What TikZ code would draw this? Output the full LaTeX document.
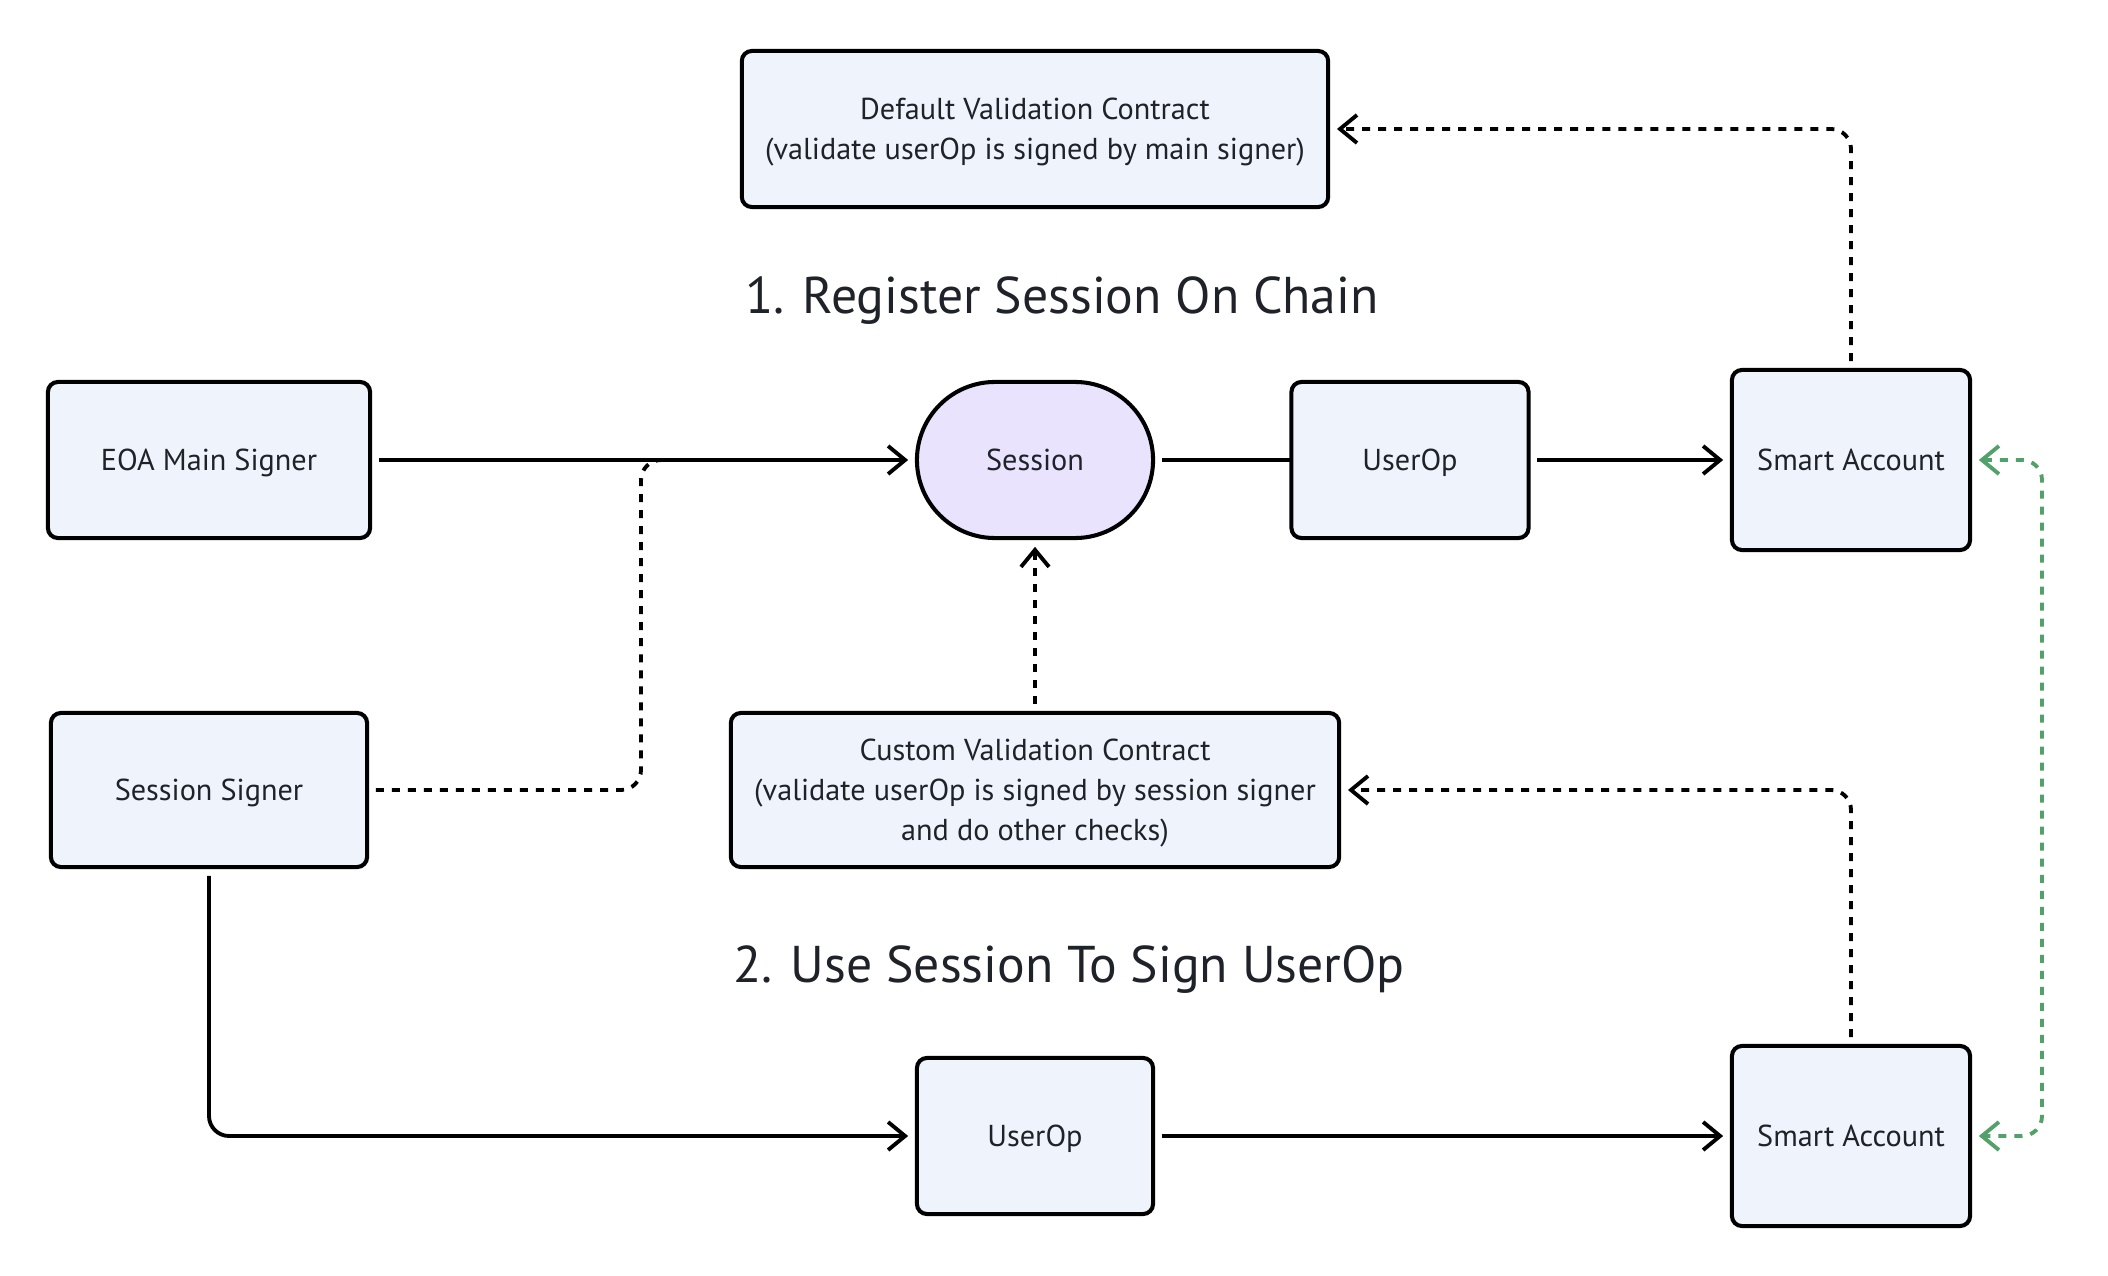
\documentclass[tikz,border=0pt]{standalone}
\usepackage{fontspec}
\setmainfont{PT Sans}
\usetikzlibrary{arrows.meta,positioning}
\definecolor{boxfill}{HTML}{EFF3FC}
\definecolor{sessfill}{HTML}{E9E3FD}
\definecolor{inkgray}{HTML}{1F2329}
\definecolor{railgreen}{HTML}{52A06A}

\begin{document}
\begin{tikzpicture}[x=0.01cm,y=-0.01cm,
  box/.style={draw, rectangle, rounded corners=0.1cm, line width=1.15pt, fill=boxfill,
    text=inkgray, font=\fontsize{8.6}{11.4}\selectfont, align=center, outer sep=2.5pt,
    text depth=0pt},
  pill/.style={box, fill=sessfill, rounded corners=0.78cm},
  headline/.style={text=inkgray, font=\fontsize{14.7}{17}\selectfont},
  flow/.style={line width=1.1pt, -{Straight Barb[length=1.7mm,width=2.8mm]}},
  link/.style={line width=1.1pt},
  dots/.style={flow, dash pattern=on 0.08cm off 0.08cm, rounded corners=0.2cm},
  rail/.style={dots, railgreen, {Straight Barb[length=1.7mm,width=2.8mm]}-{Straight Barb[length=1.7mm,width=2.8mm]}}]
\useasboundingbox (0,0) rectangle (2108,1276);

% top row
\node[box, minimum width=5.86cm, minimum height=1.56cm] (dvc) at (1035,129)
  {Default Validation Contract\\(validate userOp is signed by main signer)};
\node[headline] (title1) at (1062,301) {1. Register Session On Chain};

\node[box, minimum width=3.22cm, minimum height=1.56cm] (eoa) at (209,460) {EOA Main Signer};
\node[pill, minimum width=2.36cm, minimum height=1.56cm] (sess) at (1035,460) {Session};
\node[box, minimum width=2.37cm, minimum height=1.56cm] (uop1) at (1410,460) {UserOp};
\node[box, minimum width=2.38cm, minimum height=1.80cm] (sa1) at (1851,460) {Smart Account};

% middle row
\node[box, minimum width=3.16cm, minimum height=1.54cm] (ssig) at (209,790) {Session Signer};
\node[box, minimum width=6.08cm, minimum height=1.54cm] (cvc) at (1035,790)
  {Custom Validation Contract\\(validate userOp is signed by session signer\\and do other checks)};
\node[headline] (title2) at (1069,970) {2. Use Session To Sign UserOp};

% bottom row
\node[box, minimum width=2.36cm, minimum height=1.56cm] (uop2) at (1035,1136) {UserOp};
\node[box, minimum width=2.38cm, minimum height=1.80cm] (sa2) at (1851,1136) {Smart Account};

\coordinate (bend) at (641,460);
\coordinate (merge) at (675,460);
\coordinate (grail) at (2042,800);

\draw[flow] (eoa) -- (sess);
\draw[dots, -] (ssig.east) -| (bend) -- (merge);
\draw[link, shorten >=-2.5pt] (sess) -- (uop1.west);
\draw[flow] (uop1) -- (sa1);
\draw[dots] (sa1.north) |- (dvc.east);
\draw[dots] (cvc.north) -- (sess.south);
\draw[dots] (sa2.north) |- (cvc.east);
\draw[flow, rounded corners=0.2cm] (ssig.south) |- (uop2.west);
\draw[flow] (uop2) -- (sa2);
\draw[rail] (sa1.east) -| (grail) |- (sa2.east);
\end{tikzpicture}
\end{document}
